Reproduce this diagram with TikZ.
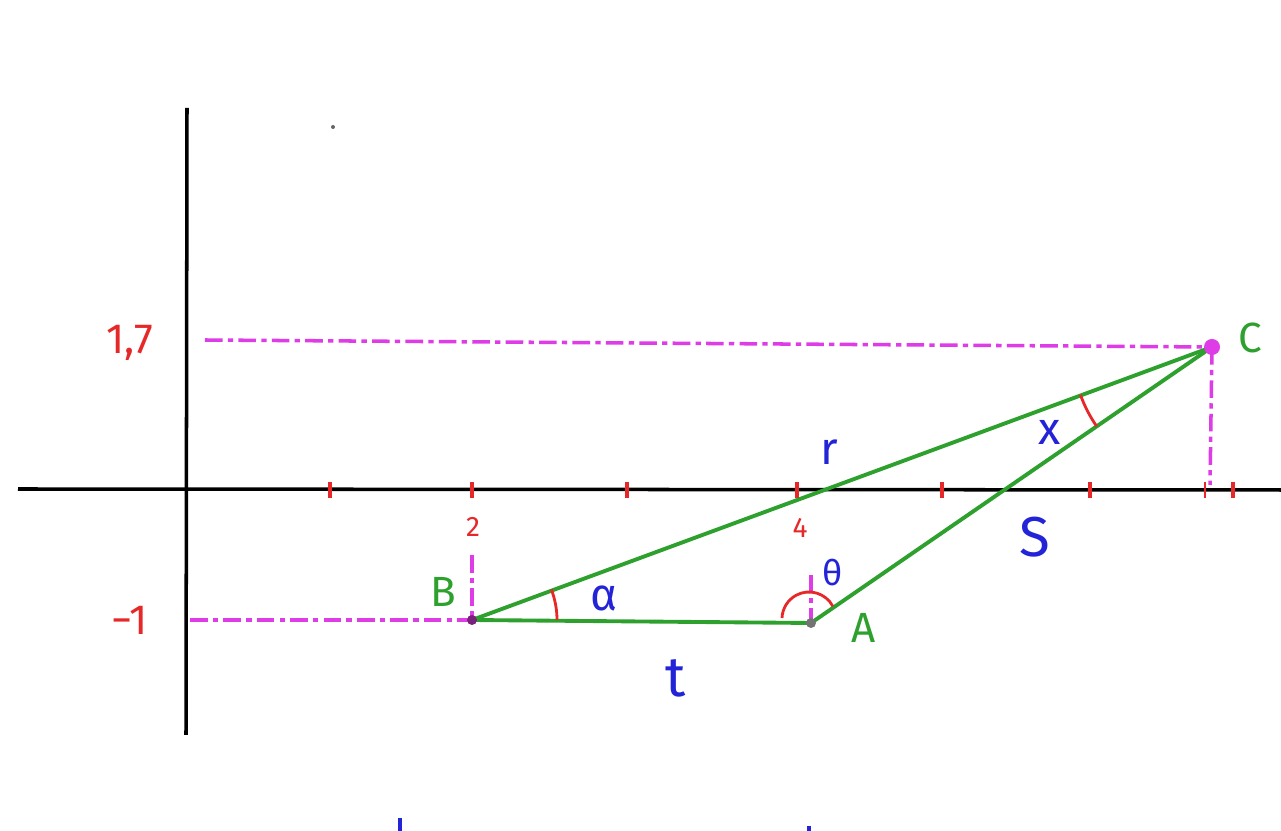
\documentclass[tikz,border=0pt]{standalone}
\usepackage{fontspec}
\setmainfont{Fira Sans}
\definecolor{mag}{RGB}{222,60,230}
\definecolor{grn}{RGB}{45,160,45}
\definecolor{rd}{RGB}{230,40,40}
\definecolor{bl}{RGB}{35,35,215}
\begin{document}
\begin{tikzpicture}[x=0.01cm,y=-0.01cm,
  axis/.style={line width=1pt,black},
  tick/.style={line width=1.2pt,rd},
  guide/.style={mag,line width=1pt,dash pattern=on 5pt off 1.5pt on 1.5pt off 1.5pt},
  side/.style={grn,line width=1.1pt},
  angarc/.style={rd,line width=0.8pt},
  redlbl/.style={rd,font=\fontsize{12}{12}\selectfont},
  smalllbl/.style={rd,font=\fontsize{8}{8}\selectfont},
  ptlbl/.style={grn,font=\fontsize{12}{12}\selectfont},
  namelbl/.style={bl,font=\fontsize{13}{13}\selectfont}]
\useasboundingbox[fill=white] (0,0) rectangle (1281,831);
% axes
\coordinate (ytop) at (187,108);
\coordinate (ybot) at (186,735);
\coordinate (xl) at (18,489);
\coordinate (xr) at (1281,490);
\draw[axis] (ytop) -- (ybot);
\draw[axis] (xl) -- (xr);
% ticks
\foreach \x in {330,472,627,797,942,1090,1233}
  \draw[tick] (\x,482) -- (\x,498);
\draw[rd,line width=0.4pt] (1205,482) -- (1205,498);
% points
\coordinate (B) at (472,620);
\coordinate (A) at (811,623);
\coordinate (C) at (1212,347);
\coordinate (Aarc) at (809,619);
% guides
\coordinate (g17) at (205,340);
\coordinate (gm1) at (190,620);
\coordinate (g2) at (472,555);
\coordinate (g4) at (811,575);
\coordinate (gC) at (1210,485);
\draw[guide] (g17) -- (C);
\draw[guide] (gm1) -- (B);
\draw[guide] (g2) -- (B);
\draw[guide] (g4) -- (A);
\draw[guide] (C) -- (gC);
% triangle
\draw[side] (B) -- (A);
\draw[side] (B) -- (C);
\draw[side] (A) -- (C);
% angle arcs
\draw[angarc] (B) ++(0:85) arc[start angle=0,end angle=-21,radius=85];
\draw[angarc] (Aarc) ++(-28:27) arc[start angle=-28,end angle=-178,radius=27];
\draw[angarc] (C) ++(160:140) arc[start angle=160,end angle=145.5,radius=140];
% dots
\fill[mag] (C) circle[radius=8];
\fill[black!45!mag] (B) circle[radius=5];
\fill[black!55] (A) circle[radius=5];
\fill[black!60] (333,127) circle[radius=2];
% labels
\node[redlbl] (l17) at (130,343) {1,7};
\node[redlbl] (lm1) at (130,620) {−1};
\node[smalllbl] (l2) at (473,527) {2};
\node[smalllbl] (l4) at (800,528) {4};
\node[ptlbl] (lB) at (443,592) {B};
\node[ptlbl] (lA) at (864,628) {A};
\node[ptlbl] (lC) at (1250,338) {C};
\node[namelbl] (lr) at (829,452) {r};
\node[namelbl] (lx) at (1050,432) {x};
\node[namelbl,font=\fontsize{16}{16}\selectfont] (lS) at (1035,537) {S};
\node[namelbl] (lal) at (604,598) {α};
\node[namelbl,font=\fontsize{10}{10}\selectfont] (lth) at (833,573) {θ};
\node[namelbl,font=\fontsize{16}{16}\selectfont] (lt) at (676,678) {t};
% cut-off strokes at bottom
\draw[bl,line width=1.2pt] (400,818) -- (400,831);
\draw[bl,line width=1.2pt] (809,826) -- (809,831);
\end{tikzpicture}
\end{document}
